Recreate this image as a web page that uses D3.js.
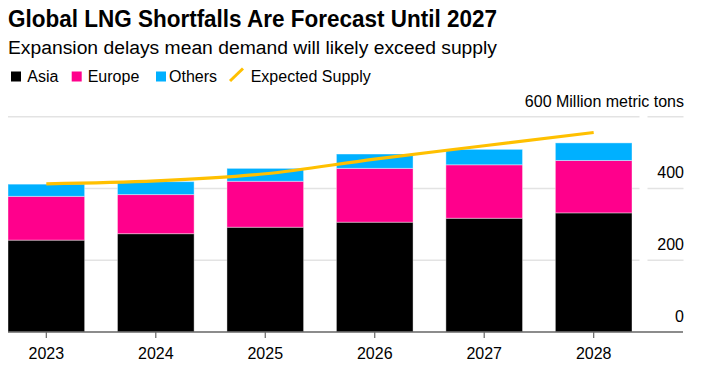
<!DOCTYPE html>
<html>
<head>
<meta charset="utf-8">
<script src="https://cdn.jsdelivr.net/npm/d3@7"></script>
<style>
  html, body { margin: 0; padding: 0; background: #fff; }
  svg { display: block; font-family: "Liberation Sans", Arial, sans-serif; }
</style>
</head>
<body>
<svg id="chart" width="703" height="381"></svg>
<script>
const years = ["2023", "2024", "2025", "2026", "2027", "2028"];
const asia = [256, 274, 292, 306, 317, 332];
const europe = [122, 109, 128, 150, 149, 146];
const others = [34, 36, 36, 40, 43, 49];
const supply = [413, 421, 441, 482, 519, 556];
const yTicks = [0, 200, 400, 600];
const seriesNames = ["Asia", "Europe", "Others"];
const seriesColors = ["#000000", "#FF008C", "#00B0FF"];
const supplyColor = "#FFC000";

const svg = d3.select("#chart");
const W = 703, H = 381;

const x = d3.scaleBand().domain(years).range([8, 632]).paddingInner(0.3).paddingOuter(0);
const y = d3.scaleLinear().domain([0, 600]).range([332, 116.7]);

// Title & subtitle
const title = svg.append("text").attr("x", 8).attr("y", 27)
  .attr("font-size", 23).attr("font-weight", "bold").attr("fill", "#000")
  .text("Global LNG Shortfalls Are Forecast Until 2027");
title.attr("textLength", 489).attr("lengthAdjust", "spacingAndGlyphs");
const sub = svg.append("text").attr("x", 8).attr("y", 53.5)
  .attr("font-size", 18).attr("fill", "#000")
  .text("Expansion delays mean demand will likely exceed supply");
sub.attr("textLength", 489).attr("lengthAdjust", "spacingAndGlyphs");

// Legend
const legend = svg.append("g");
const legendItems = [
  { name: "Asia", color: seriesColors[0], type: "rect", x: 11, tx: 27.3 },
  { name: "Europe", color: seriesColors[1], type: "rect", x: 71.7, tx: 87.7 },
  { name: "Others", color: seriesColors[2], type: "rect", x: 156, tx: 169 },
  { name: "Expected Supply", color: supplyColor, type: "line", x: 230, tx: 250.7 }
];
legendItems.forEach(d => {
  if (d.type === "rect") {
    legend.append("rect").attr("x", d.x).attr("y", 71.5).attr("width", 10).attr("height", 10).attr("fill", d.color);
  } else {
    legend.append("line").attr("x1", d.x).attr("y1", 81).attr("x2", d.x + 13).attr("y2", 68.5)
      .attr("stroke", d.color).attr("stroke-width", 3);
  }
  legend.append("text").attr("x", d.tx).attr("y", 81.5).attr("font-size", 16).attr("fill", "#000").text(d.name);
});

// Gridlines
const grid = svg.append("g");
yTicks.filter(t => t > 0).forEach(t => {
  grid.append("line").attr("x1", 8).attr("x2", 639.5).attr("y1", y(t)).attr("y2", y(t))
    .attr("stroke", "#e3e3e3").attr("stroke-width", 1.5);
  grid.append("line").attr("x1", 647.5).attr("x2", 683.5).attr("y1", y(t)).attr("y2", y(t))
    .attr("stroke", "#e3e3e3").attr("stroke-width", 1.5);
});

// Y labels
yTicks.forEach(t => {
  svg.append("text").attr("x", 684).attr("y", y(t) - 10).attr("text-anchor", "end")
    .attr("font-size", 16).attr("fill", "#000")
    .text(t === 600 ? "600 Million metric tons" : String(t));
});

// Stacked bars
const table = years.map((yr, i) => ({ year: yr, Asia: asia[i], Europe: europe[i], Others: others[i] }));
const stack = d3.stack().keys(seriesNames)(table);
const barsG = svg.append("g");
stack.forEach((layer, li) => {
  barsG.append("g").selectAll("rect").data(layer).join("rect")
    .attr("x", d => x(d.data.year))
    .attr("width", x.bandwidth())
    .attr("y", d => y(d[1]))
    .attr("height", d => y(d[0]) - y(d[1]))
    .attr("fill", seriesColors[li])
    .attr("stroke", "rgba(255,255,255,0.4)")
    .attr("stroke-width", 1);
});

// Baseline axis
const axisG = svg.append("g").attr("transform", "translate(0,332)");
axisG.append("line").attr("x1", 8).attr("x2", 683).attr("y1", 0).attr("y2", 0)
  .attr("stroke", "#666").attr("stroke-width", 1.3);
axisG.selectAll(".tick").data(years).join("line")
  .attr("x1", d => x(d) + x.bandwidth() / 2).attr("x2", d => x(d) + x.bandwidth() / 2)
  .attr("y1", 0).attr("y2", 6).attr("stroke", "#666").attr("stroke-width", 1.2);
axisG.selectAll(".lbl").data(years).join("text")
  .attr("x", d => x(d) + x.bandwidth() / 2).attr("y", 27)
  .attr("text-anchor", "middle").attr("font-size", 16).attr("fill", "#000")
  .text(d => d);

// Supply line
const line = d3.line()
  .x((d, i) => x(years[i]) + x.bandwidth() / 2)
  .y(d => y(d))
  .curve(d3.curveMonotoneX);
svg.append("path").datum(supply).attr("d", line)
  .attr("fill", "none").attr("stroke", supplyColor).attr("stroke-width", 3.2)
  .attr("stroke-linecap", "butt");
</script>
</body>
</html>
